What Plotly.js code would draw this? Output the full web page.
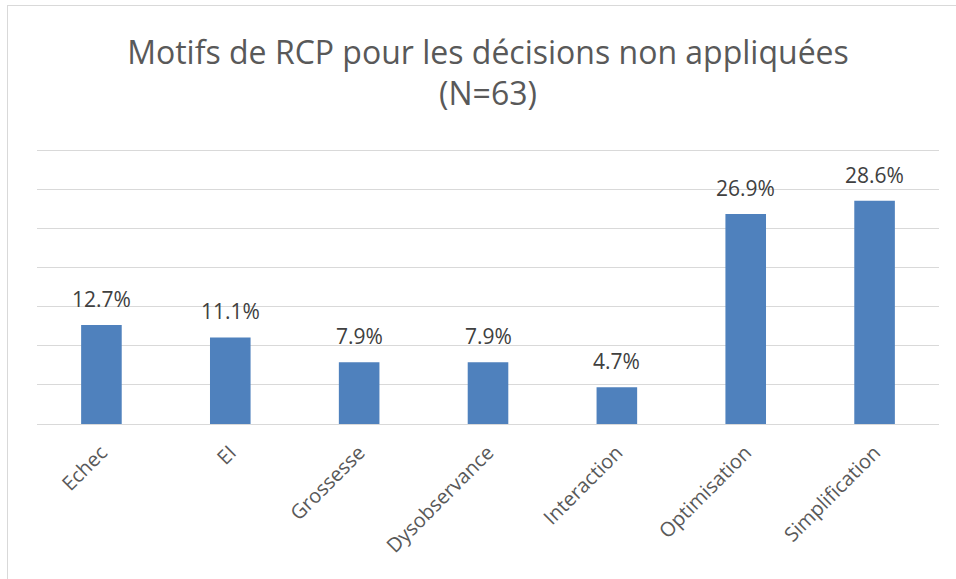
<!DOCTYPE html>
<html>
<head>
<meta charset="utf-8">
<script src="https://cdn.plot.ly/plotly-3.0.1.min.js"></script>
<style>
html,body{margin:0;padding:0;background:#fff;}
#wrap{position:relative;width:956px;height:579px;overflow:hidden;}
#chart{position:absolute;left:0;top:0;width:956px;height:579px;}
#frame{position:absolute;left:7px;top:5px;width:1000px;height:1000px;border-left:1px solid #d9d9d9;border-top:1px solid #d9d9d9;pointer-events:none;}
</style>
</head>
<body>
<div id="wrap"><div id="chart"></div><div id="frame"></div></div>
<script>
var categories = ["Echec", "EI", "Grossesse", "Dysobservance", "Interaction", "Optimisation", "Simplification"];
var values = [12.7, 11.1, 7.9, 7.9, 4.7, 26.9, 28.6];
var labels = ["12.7%", "11.1%", "7.9%", "7.9%", "4.7%", "26.9%", "28.6%"];

var font = "'Open Sans', 'DejaVu Sans', sans-serif";

var trace = {
  type: "bar",
  x: categories,
  y: values,
  marker: {color: "#4F81BD"},
  hoverinfo: "none"
};

var annotations = categories.map(function(c, i){
  return {x: c, y: values[i], text: labels[i], showarrow: false,
          xref: "x", yref: "y", yanchor: "bottom", yshift: 10,
          font: {family: font, size: 21, color: "#404040"}};
});

var layout = {
  width: 956, height: 579,
  margin: {l: 37, r: 17, t: 147, b: 155},
  paper_bgcolor: "#fff", plot_bgcolor: "#fff",
  bargap: 0.685,
  showlegend: false,
  title: {
    text: "Motifs de RCP pour les décisions non appliquées<br>(N=63)",
    x: 0.5, xref: "paper", y: 0.89, yref: "container", yanchor: "top",
    font: {family: font, size: 32, color: "#595959"}
  },
  xaxis: {
    type: "category",
    tickangle: -45,
    ticks: "", showgrid: false, showline: false, zeroline: false,
    ticklabelstandoff: 12,
    tickfont: {family: font, size: 20, color: "#595959"},
    fixedrange: true
  },
  yaxis: {
    range: [0, 35.5], dtick: 5, tick0: 0,
    showticklabels: false, ticks: "",
    gridcolor: "#d9d9d9", gridwidth: 1,
    zeroline: true, zerolinecolor: "#d9d9d9", zerolinewidth: 1,
    showline: false, fixedrange: true
  },
  annotations: annotations
};

Plotly.newPlot("chart", [trace], layout, {displayModeBar: false, staticPlot: true});
</script>
</body>
</html>
